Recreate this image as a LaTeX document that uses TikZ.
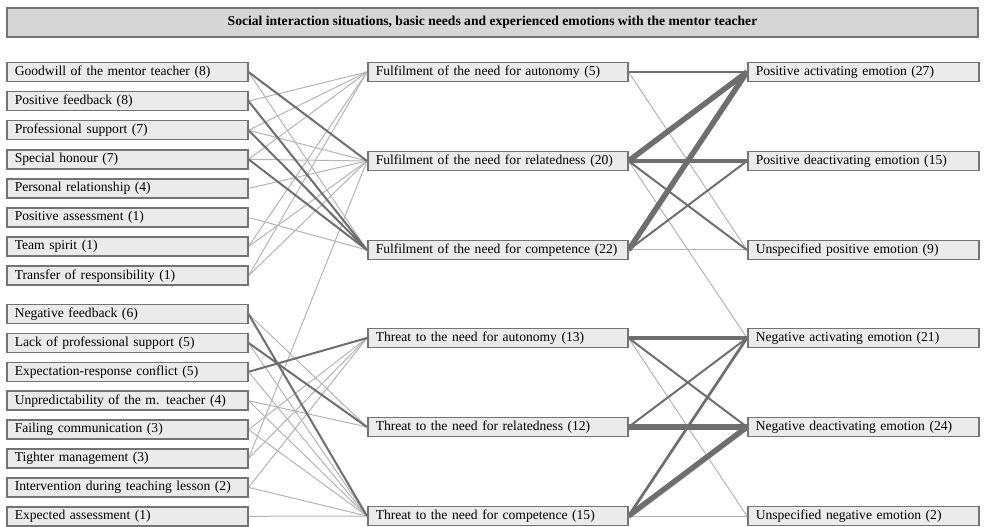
\documentclass[tikz,border=0pt]{standalone}
\usepackage{fontspec}
\setmainfont{Liberation Serif}
\usetikzlibrary{backgrounds}
\definecolor{boxfill}{HTML}{EBEBEB}
\definecolor{titlefill}{HTML}{D6D6D6}
\definecolor{boxline}{HTML}{747474}
\definecolor{thinline}{HTML}{B4B4B4}
\definecolor{darkline}{HTML}{6E6E6E}
\tikzset{
  basebox/.style={draw=boxline, line width=1.5bp, fill=boxfill, minimum height=19bp,
    inner xsep=8bp, inner ysep=0pt, anchor=west, align=left,
    font=\fontsize{13.6bp}{16bp}\selectfont},
  lbox/.style={basebox, text width=225bp},
  mbox/.style={basebox, text width=244bp},
  rbox/.style={basebox, text width=215bp},
  titlebox/.style={draw=boxline, line width=1.5bp, fill=titlefill, minimum width=971bp,
    minimum height=29bp, inner sep=0pt, font=\fontsize{13.6bp}{16bp}\selectfont\bfseries},
  eA/.style={draw=thinline, line width=1bp},
  eB/.style={draw=darkline, line width=2bp},
  eC/.style={draw=darkline, line width=3.5bp},
  eCC/.style={draw=darkline, line width=2.7bp},
  eD/.style={draw=darkline, line width=5.5bp},
}
\begin{document}
\begin{tikzpicture}[x=1bp,y=-1bp]
\useasboundingbox (0,0) rectangle (985,527);
\node[titlebox] (title) at (492.5,22.5) {Social interaction situations, basic needs and experienced emotions with the mentor teacher};
% left column, upper
\node[lbox] (g)  at (6,72)    {Goodwill of the mentor teacher (8)};
\node[lbox] (pf) at (6,101.1) {Positive feedback (8)};
\node[lbox] (ps) at (6,130.2) {Professional support (7)};
\node[lbox] (sh) at (6,159.3) {Special honour (7)};
\node[lbox] (pr) at (6,188.4) {Personal relationship (4)};
\node[lbox] (pa) at (6,217.5) {Positive assessment (1)};
\node[lbox] (ts) at (6,246.6) {Team spirit (1)};
\node[lbox] (tr) at (6,275.7) {Transfer of responsibility (1)};
% left column, lower
\node[lbox] (nf)  at (6,314)   {Negative feedback (6)};
\node[lbox] (lps) at (6,342.9) {Lack of professional support (5)};
\node[lbox] (erc) at (6,371.8) {Expectation-response conflict (5)};
\node[lbox] (umt) at (6,400.7) {Unpredictability of the m. teacher (4)};
\node[lbox] (fcm) at (6,429.6) {Failing communication (3)};
\node[lbox] (tm)  at (6,458.5) {Tighter management (3)};
\node[lbox] (idl) at (6,487.4) {Intervention during teaching lesson (2)};
\node[lbox] (ea)  at (6,516.3) {Expected assessment (1)};
% middle column
\node[mbox] (fa) at (367,72)  {Fulfilment of the need for autonomy (5)};
\node[mbox] (fr) at (367,161) {Fulfilment of the need for relatedness (20)};
\node[mbox] (fc) at (367,250) {Fulfilment of the need for competence (22)};
\node[mbox] (ta) at (367,338) {Threat to the need for autonomy (13)};
\node[mbox] (tr2) at (367,427) {Threat to the need for relatedness (12)};
\node[mbox] (tc) at (367,516) {Threat to the need for competence (15)};
% right column
\node[rbox] (pae) at (747,72)  {Positive activating emotion (27)};
\node[rbox] (pde) at (747,161) {Positive deactivating emotion (15)};
\node[rbox] (upe) at (747,250) {Unspecified positive emotion (9)};
\node[rbox] (nae) at (747,338) {Negative activating emotion (21)};
\node[rbox] (nde) at (747,427) {Negative deactivating emotion (24)};
\node[rbox] (une) at (747,516) {Unspecified negative emotion (2)};
\begin{pgfonlayer}{background}
% left -> middle, thin
\foreach \a/\b in {pf/fa, ps/fa, sh/fa, ts/fa, tr/fa,
                   ps/fr, sh/fr, pr/fr, ts/fr, tr/fr, tm/fr,
                   g/fc, pa/fc,
                   fcm/ta, tm/ta, idl/ta,
                   nf/tr2, umt/tr2,
                   lps/tc, erc/tc, umt/tc, fcm/tc, idl/tc, ea/tc}
  \draw[eA] (\a.east) -- (\b.west);
% left -> middle, dark
\foreach \a/\b in {g/fr, pf/fc, ps/fc, sh/fc, erc/ta, lps/tr2, nf/tc}
  \draw[eB] (\a.east) -- (\b.west);
% middle -> right
\draw[eA] (fa.east) -- (upe.west);
\draw[eA] (fr.east) -- (nae.west);
\draw[eA] (fc.east) -- (upe.west);
\draw[eA] (ta.east) -- (une.west);
\draw[eA] (tc.east) -- (une.west);
\draw[eB] (fa.east) -- (pae.west);
\draw[eB] (fr.east) -- (upe.west);
\draw[eB] (fc.east) -- (pde.west);
\draw[eB] (ta.east) -- (nde.west);
\draw[eB] (tr2.east) -- (nae.west);
\draw[eCC] (tc.east) -- (nae.west);
\draw[eC] (fr.east) -- (pde.west);
\draw[eC] (ta.east) -- (nae.west);
\draw[eD] (fr.east) -- (pae.west);
\draw[eD] (fc.east) -- (pae.west);
\draw[eD] (tr2.east) -- (nde.west);
\draw[eD] (tc.east) -- (nde.west);
\end{pgfonlayer}
\end{tikzpicture}
\end{document}
